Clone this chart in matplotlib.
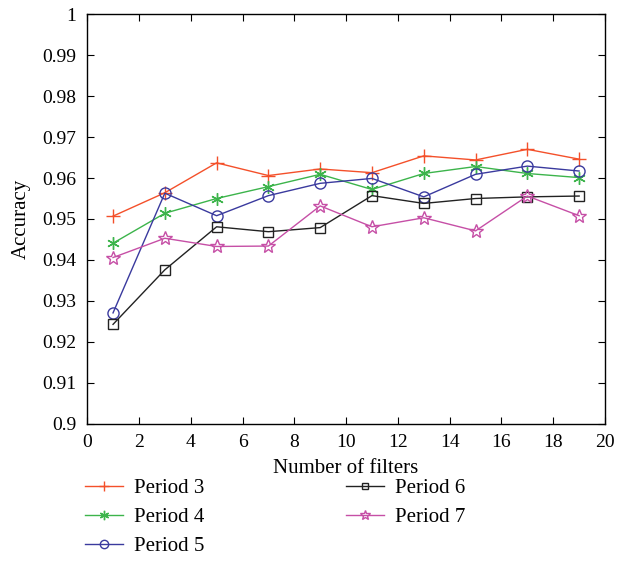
import matplotlib
matplotlib.use('Agg')
import matplotlib.pyplot as pl

filters = [1, 3, 5, 7, 9, 11, 13, 15, 17, 19]
period3 = [0.9507, 0.9564, 0.9637, 0.9606, 0.9622, 0.9613, 0.9654, 0.9644, 0.9670, 0.9646]
period4 = [0.9441, 0.9514, 0.9550, 0.9579, 0.9609, 0.9572, 0.9611, 0.9628, 0.9611, 0.9601]
period5 = [0.9271, 0.9563, 0.9508, 0.9557, 0.9587, 0.9599, 0.9554, 0.9609, 0.9629, 0.9617]
period6 = [0.9243, 0.9376, 0.9481, 0.9469, 0.9479, 0.9557, 0.9538, 0.9550, 0.9554, 0.9556]
period7 = [0.9406, 0.9453, 0.9433, 0.9434, 0.9532, 0.9481, 0.9503, 0.9471, 0.9556, 0.9508]

names = ['Period 3', 'Period 4', 'Period 5', 'Period 6', 'Period 7']
colors = ['#f4502a', '#3cb44b', '#3a3a9e', '#222222', '#c64fa6']
markers = ['+', (6, 2, 0), 'o', 's', '*']

pl.rcParams['font.family'] = ['Liberation Serif', 'DejaVu Serif']

fig = pl.figure(figsize=(6.18, 5.84), dpi=100)
ax = fig.add_axes([0.141, 0.274, 0.838, 0.702])

series = [period3, period4, period5, period6, period7]
for s, vals in enumerate(series):
    kw = dict(color=colors[s], linewidth=1.0, marker=markers[s], label=names[s])
    if s == 2:
        kw.update(markersize=8, markerfacecolor='none', markeredgewidth=1.0)
    elif s == 3:
        kw.update(markersize=6.5, markerfacecolor='none', markeredgewidth=1.0)
    elif s == 4:
        kw.update(markersize=10, markerfacecolor='none', markeredgewidth=1.0)
    elif s == 1:
        kw.update(markersize=9, markeredgewidth=1.0)
    else:
        kw.update(markersize=10, markeredgewidth=1.0)
    ax.plot(filters, vals, **kw)

ax.set_xlim(0, 20)
ax.set_ylim(0.9, 1.0)
ax.set_xticks(range(0, 21, 2))
yt = [0.9 + 0.01 * i for i in range(11)]
ax.set_yticks(yt)
ax.set_yticklabels(['0.9', '0.91', '0.92', '0.93', '0.94', '0.95', '0.96',
                    '0.97', '0.98', '0.99', '1'])
ax.tick_params(direction='in', top=True, right=True, labelsize=14, length=5)
ax.tick_params(axis='y', pad=8)
ax.tick_params(axis='x', pad=7)
for sp in ax.spines.values():
    sp.set_linewidth(1.0)
ax.set_xlabel('Number of filters', fontsize=15, labelpad=6)
ax.set_ylabel('Accuracy', fontsize=15, labelpad=8)

ax.legend(loc='upper left', bbox_to_anchor=(-0.04, -0.088), ncol=2, frameon=False,
          fontsize=15, handlelength=1.8, handletextpad=0.55, columnspacing=6.8,
          labelspacing=0.45, markerscale=0.75)

fig.savefig('out.png', dpi=100)
